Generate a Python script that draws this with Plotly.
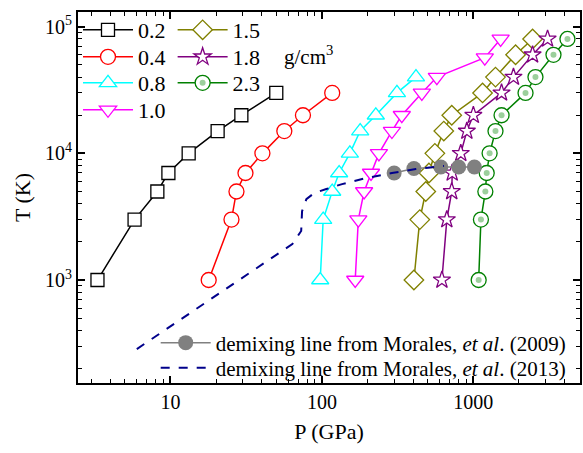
import plotly.graph_objects as go

# ---- data ----
T_base = [1000, 3000, 5000, 7000, 10000, 15000, 20000, 30000]
P_02 = [3.3, 5.8, 8.2, 9.7, 13.2, 20.5, 29.4, 50]
T_02 = T_base
P_04 = [17.9, 25.3, 27.3, 31.3, 40.5, 56.5, 75, 117]
T_04 = T_base
P_08 = [97.5, 102, 117, 130, 153, 179, 227, 313, 418]
T_08 = [1000, 3000, 5000, 7000, 10000, 15000, 20000, 30000, 40000]
P_10 = [166, 174, 190, 211, 238, 290, 337, 457, 574, 1190, 1514]
T_10 = [1000, 3000, 5000, 7000, 10000, 15000, 20000, 30000, 40000, 57000, 80000]
P_15 = [405, 443, 485, 509, 557, 638, 720, 1150, 1400, 1900, 2460]
T_15 = [1000, 3000, 5000, 7000, 10000, 15000, 20000, 30000, 40000, 60000, 80000]
P_18 = [620, 668, 720, 725, 826, 906, 1000, 1535, 1840, 2460, 3090]
T_18 = [1000, 3000, 5000, 7000, 10000, 15000, 20000, 30000, 40000, 60000, 80000]
P_23 = [1084, 1122, 1200, 1225, 1280, 1400, 1535, 2210, 2570, 3380, 4180]
T_23 = [1000, 3000, 5000, 7000, 10000, 15000, 20000, 30000, 40000, 60000, 80000]

P_m09 = [300, 405, 610, 800, 1016]
T_m09 = [7000, 7600, 7800, 7800, 7800]

P_m13 = [6.0, 45, 63.8, 73, 74, 79, 89, 107, 136, 196, 290, 417, 532, 640]
T_m13 = [285, 1438, 1923, 2440, 3500, 4350, 4860, 5230, 5720, 6380, 7000, 7520, 7800, 7950]

x_tickvals = [10, 100, 1000]
x_ticktext = ["10", "100", "1000"]
y_tickvals = [1000, 10000, 100000]
y_ticktext = ["10<sup>3</sup>", "10<sup>4</sup>", "10<sup>5</sup>"]

FONT = "Liberation Serif"

# name, P, T, colour, symbol, size, legend id
series = [
    ("0.2", P_02, T_02, "black", "square", 13, "legend"),
    ("0.4", P_04, T_04, "red", "circle", 15, "legend2"),
    ("0.8", P_08, T_08, "#00ffff", "triangle-up", 15, "legend3"),
    ("1.0", P_10, T_10, "#ff00ff", "triangle-down", 15, "legend4"),
    ("1.5", P_15, T_15, "#808000", "diamond", 15, "legend5"),
    ("1.8", P_18, T_18, "#800080", "star", 13, "legend6"),
    ("2.3", P_23, T_23, "#008000", "circle", 15, "legend7"),
]

fig = go.Figure()
for name, P, T, col, sym, sz, lg in series:
    fig.add_trace(go.Scatter(
        x=P, y=T, mode="lines+markers", name=name,
        line=dict(color=col, width=1.5),
        marker=dict(symbol=sym, size=sz, color="white", line=dict(color=col, width=1.3)),
        legend=lg, showlegend=True,
    ))
# light-green shading dot inside the 2.3 circles
fig.add_trace(go.Scatter(
    x=P_23, y=T_23, mode="markers", name=" ",
    marker=dict(symbol="circle", size=6, color="#9ccf9c", line=dict(width=0)),
    legend="legend10", showlegend=True,
))

fig.add_trace(go.Scatter(
    x=P_m09, y=T_m09, mode="lines+markers",
    name="demixing line from Morales, <i>et al</i>. (2009)",
    line=dict(color="#808080", width=1.5),
    marker=dict(symbol="circle", size=15, color="#808080"),
    legend="legend8", showlegend=True,
))
fig.add_trace(go.Scatter(
    x=P_m13, y=T_m13, mode="lines",
    name="demixing line from Morales, <i>et al</i>. (2013)",
    line=dict(color="#00008b", width=2, dash="dash"),
    legend="legend9", showlegend=True,
))

axis_common = dict(
    type="log", showgrid=False, zeroline=False,
    showline=True, linecolor="black", linewidth=2, mirror="ticks",
    ticks="inside", ticklen=7, tickwidth=1.5, tickcolor="black",
    minor=dict(ticks="inside", ticklen=4, tickwidth=1.2, tickcolor="black", dtick="D1"),
    tickfont=dict(family=FONT, size=20, color="black"),
)


def paper_x(px):
    return (px - 78) / 504.0


def paper_y(py):
    return 1 - (py - 12) / 371.0


def leg(xpx, ypx, size):
    return dict(x=paper_x(xpx), y=paper_y(ypx), xanchor="left", yanchor="middle",
                bgcolor="rgba(0,0,0,0)", font=dict(family=FONT, size=size),
                itemwidth=50, visible=True)


fig.update_layout(
    width=583, height=453,
    margin=dict(l=78, r=1, t=12, b=70),
    paper_bgcolor="white", plot_bgcolor="white",
    showlegend=True,
    font=dict(family=FONT, color="black"),
    xaxis=dict(axis_common, range=[0.39, 3.704], tickvals=x_tickvals, ticktext=x_ticktext,
               title=dict(text="P (GPa)", font=dict(family=FONT, size=22), standoff=12)),
    yaxis=dict(axis_common, range=[2.187, 5.116], tickvals=y_tickvals, ticktext=y_ticktext,
               title=dict(text="T (K)", font=dict(family=FONT, size=22), standoff=8)),
    legend=leg(78, 30, 22),
    legend2=leg(78, 57, 22),
    legend3=leg(78, 83, 22),
    legend4=leg(78, 110, 22),
    legend5=leg(173, 30, 22),
    legend6=leg(173, 57, 22),
    legend7=leg(173, 83, 22),
    legend10=leg(173, 83, 22),
    legend8=leg(156, 343, 21),
    legend9=leg(156, 368, 21),
    annotations=[dict(x=paper_x(283), y=paper_y(55), xref="paper", yref="paper",
                      text="g/cm<sup>3</sup>", showarrow=False, xanchor="left", yanchor="middle",
                      font=dict(family=FONT, size=21))],
)

fig.write_html("out.html")
